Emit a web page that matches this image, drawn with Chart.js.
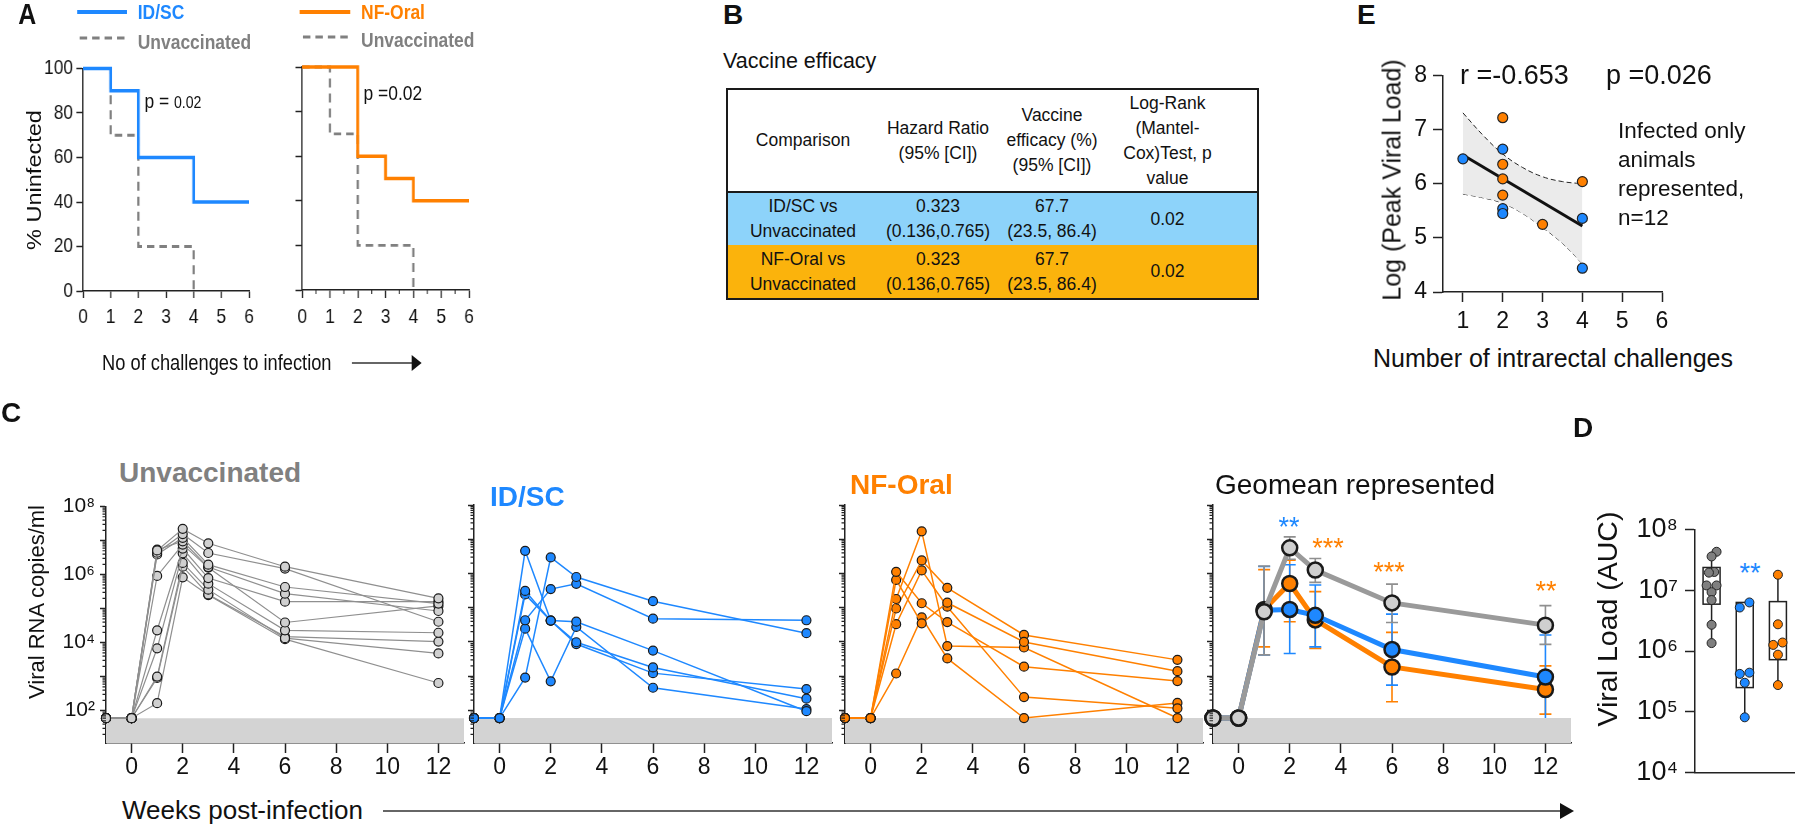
<!DOCTYPE html>
<html><head><meta charset="utf-8">
<script src="https://cdn.jsdelivr.net/npm/chart.js@4.4.1/dist/chart.umd.min.js"></script>
<style>
html,body{margin:0;padding:0;background:#fff;}
body{width:1800px;height:826px;position:relative;overflow:hidden;font-family:'Liberation Sans',Arial,Helvetica,sans-serif;color:#111;}
.t{position:absolute;white-space:nowrap;line-height:1;transform:translateY(-50%);}
.r{position:absolute;white-space:nowrap;line-height:1;transform:translate(-50%,-50%) rotate(-90deg);}
canvas{position:absolute;}
svg{position:absolute;left:0;top:0;overflow:visible;}
#panelA{position:absolute;left:0;top:0;width:720px;height:400px;transform:scaleX(0.83);transform-origin:0 0;}
table.ve{position:absolute;left:726px;top:88px;border-collapse:collapse;table-layout:fixed;border:2px solid #1a1a1a;font-size:17.5px;line-height:25px;}
table.ve td{text-align:center;vertical-align:middle;padding:0;}
</style></head>
<body>
<div id="panelA"></div>
<script>
// ================= DATA =================
// Panel A : Kaplan-Meier (% uninfected vs challenges)
const aIdscX = [0, 1, 2, 4, 6];
const aIdscY = [100, 90, 60, 40, 40];
const aUnvX  = [0, 1, 2, 4];
const aUnvY  = [100, 70, 20, 0];
const aNfX   = [0, 2, 3, 4, 6];
const aNfY   = [100, 60, 50, 40, 40];
const aXTicks = [0, 1, 2, 3, 4, 5, 6];
const aXHalf  = [0.5, 1.5, 2.5, 3.5, 4.5, 5.5];
const aYTicks = [0, 20, 40, 60, 80, 100];

// Panel B : table
const tblHead = [['Comparison'], ['Hazard Ratio', '(95% [CI])'], ['Vaccine', 'efficacy (%)', '(95% [CI])'], ['Log-Rank', '(Mantel-', 'Cox)Test, p', 'value']];
const tblRow1 = [['ID/SC vs', 'Unvaccinated'], ['0.323', '(0.136,0.765)'], ['67.7', '(23.5, 86.4)'], ['0.02']];
const tblRow2 = [['NF-Oral vs', 'Unvaccinated'], ['0.323', '(0.136,0.765)'], ['67.7', '(23.5, 86.4)'], ['0.02']];

// Panel E : log peak viral load vs challenges
const eBlueX   = [1, 2, 2, 2, 4, 4];
const eBlueY   = [6.46, 6.64, 5.54, 5.45, 5.36, 4.44];
const eOrangeX = [2, 2, 2, 2, 3, 4];
const eOrangeY = [7.22, 6.36, 6.09, 5.79, 5.25, 6.04];
const eFitX = [1, 4];
const eFitY = [6.53, 5.22];
const eBandX  = [1, 1.5, 2, 2.5, 3, 3.5, 4];
const eBandHi = [7.31, 6.90, 6.55, 6.30, 6.13, 6.04, 6.00];
const eBandLo = [5.81, 5.74, 5.64, 5.45, 5.19, 4.90, 4.52];
const eXTicks = [1, 2, 3, 4, 5, 6];
const eYTicks = [4, 5, 6, 7, 8];

// Panel C : viral RNA copies/ml over weeks
const weeks = [-1, 0, 1, 2, 3, 6, 12];
const lod = 60;
const unvacc = [
  [60, 60, 5.1e6, 2.2e7, 8.3e6, 1.7e6, 2.0e5],
  [60, 60, 4.4e6, 1.55e7, 4.3e6, 1.5e6, 4.1e4],
  [60, 60, 3.9e6, 1.2e7, 1.95e6, 4.3e5, 1.4e5],
  [60, 60, 5.4e6, 9.5e6, 1.66e6, 2.75e5, 8.5e4],
  [60, 60, 9.1e5, 7.6e6, 1.6e6, 3.9e4, 1.2e5],
  [60, 60, 2.3e4, 5.8e6, 7.9e5, 1.6e5, 1.6e5],
  [60, 60, 6.8e3, 4.2e6, 5.4e5, 2.3e4, 1.95e4],
  [60, 60, 1.0e3, 2.2e6, 3.6e5, 1.35e4, 4.8e3],
  [60, 60, 9.1e2, 1.7e6, 2.6e5, 1.5e4, 1.07e4],
  [60, 60, 1.66e2, 8.3e5, 2.5e5, 1.26e4, 6.5e2]
];
const idsc = [
  [60, 60, 9.1e2, 2.95e6, 7.9e5, 1.55e5, 1.8e4],
  [60, 60, 4.3e4, 3.5e5, 5.0e5, 4.8e4, 4.3e4],
  [60, 60, 4.6e6, 4.2e4, 9.8e3, 1.8e3, 2.2e2],
  [60, 60, 3.1e5, 4.2e4, 3.9e4, 5.6e3, 95],
  [60, 60, 2.45e5, 4.2e4, 8.7e3, 1.23e3, 4.2e2],
  [60, 60, 2.45e4, 7.1e2, 2.75e4, 4.6e2, 1.1e2]
];
const nfOral = [
  [60, 60, 1.12e6, 1.35e5, 3.8e4, 1.9e3, 7.2e2],
  [60, 60, 6.5e5, 3.5e4, 1.4e5, 1.0e4, 1.4e3],
  [60, 60, 1.8e5, 1.7e7, 7.6e3, 6.9e3, 60],
  [60, 60, 9.5e4, 2.4e6, 3.8e5, 1.6e4, 3.0e3],
  [60, 60, 3.3e4, 1.23e6, 1.07e5, 2.45e2, 1.15e2],
  [60, 60, 1.2e3, 5.2e4, 3.3e3, 60, 1.66e2]
];
const gmUnvacc = [60, 60, 7.6e4, 5.6e6, 1.26e6, 1.38e5, 3.1e4];
const gmIdsc   = [60, 60, 8.5e4, 8.9e4, 6.0e4, 6.0e3, 9.5e2];
const gmNf     = [60, 60, 8.9e4, 5.1e5, 4.4e4, 1.86e3, 4.1e2];
const gmErrWeeks = [1, 2, 3, 6, 12];
const gmUnvLo = [4.2e3, 2.6e6, 5.5e5, 3.7e4, 8.5e3];
const gmUnvHi = [1.66e6, 1.17e7, 2.75e6, 4.9e5, 1.15e5];
const gmIdLo  = [4.2e3, 4.6e3, 7.2e3, 5.5e2, 55];
const gmIdHi  = [1.6e6, 1.8e6, 4.6e5, 6.5e4, 1.6e4];
const gmNfLo  = [7.2e3, 3.9e4, 6.5e3, 1.8e2, 78];
const gmNfHi  = [1.3e6, 2.45e6, 2.95e5, 1.9e4, 2.0e3];
const cXTicks = [0, 2, 4, 6, 8, 10, 12];
const cYTicks = [1e2, 1e3, 1e4, 1e5, 1e6, 1e7, 1e8];

// Panel D : viral load AUC
const dUnvacc = [4.3e7, 3.6e7, 2.0e7, 1.95e7, 1.2e7, 1.2e7, 9.3e6, 6.9e6, 2.7e6, 1.35e6];
const dIdsc   = [6.3e6, 5.2e6, 4.4e5, 4.2e5, 3.0e5, 8.1e4];
const dNf     = [1.8e7, 2.75e6, 1.38e6, 1.26e6, 8.7e5, 2.75e5];
const dUnvBox = {min: 1.35e6, q1: 5.9e6, q3: 2.37e7, max: 4.3e7};
const dIdBox  = {min: 8.1e4, q1: 2.5e5, q3: 6.3e6, max: 6.3e6};
const dNfBox  = {min: 2.75e5, q1: 7.2e5, q3: 6.5e6, max: 1.8e7};
const dYTicks = [1e4, 1e5, 1e6, 1e7, 1e8];

// ================= STYLE =================
const BLUE = '#1e88ff', ORANGE = '#ff8000', GREY = '#808080';
const FONT = "'Liberation Sans', Arial, Helvetica, sans-serif";
// horizontal jitter for panel D dots (style only)
const dUnvJit = [0.15, 0, 0.08, -0.08, -0.15, 0.15, 0, 0, 0, 0];
const dIdJit  = [0.14, -0.15, 0.14, -0.15, 0, 0];
const dNfJit  = [0, 0, 0.14, -0.14, 0, 0];

Chart.defaults.font.family = FONT;
Chart.defaults.color = '#111';
Chart.defaults.animation = false;
Chart.defaults.responsive = false;
Chart.defaults.events = [];
Chart.defaults.plugins.legend.display = false;
Chart.defaults.plugins.tooltip.enabled = false;

const SUP = {'0':'⁰','1':'¹','2':'²','3':'³','4':'⁴','5':'⁵','6':'⁶','7':'⁷','8':'⁸','9':'⁹'};
function pow10Label(v, show) {
  const e = Math.round(Math.log10(v));
  return show.includes(e) ? '10' + String(e).split('').map(c => SUP[c]).join('') : '';
}
function minorLog(min, max) {
  const out = [];
  for (let n = 0; n < 9; n++) for (let k = 2; k <= 9; k++) {
    const v = k * Math.pow(10, n);
    if (v >= min && v <= max) out.push(v);
  }
  return out;
}
const pts = (xs, ys) => xs.map((x, i) => ({x, y: ys[i]}));

function scaleCfg(o) {
  return {
    type: o.type || 'linear', min: o.min, max: o.max,
    afterBuildTicks: ax => { ax.ticks = o.ticks.map(v => ({value: v})); },
    ticks: {display: o.showLabels !== false, font: {size: o.fontSize, family: FONT, lineHeight: 1}, color: '#111',
            padding: o.pad, callback: o.labels, autoSkip: false, maxRotation: 0, minRotation: 0},
    grid: {drawOnChartArea: false, drawTicks: true, tickLength: o.tickLen || 7, tickColor: '#222', tickWidth: 1.5},
    border: {display: true, color: '#222', width: 1.5}
  };
}

function minorTicksPlugin(list) {
  return {id: 'minorTicks', afterDraw(chart) {
    const ctx = chart.ctx;
    list.forEach(m => {
      const s = chart.scales[m.axis];
      ctx.save(); ctx.strokeStyle = '#222'; ctx.lineWidth = 1.2; ctx.beginPath();
      m.values.forEach(v => {
        const p = s.getPixelForValue(v);
        if (m.axis === 'x') { ctx.moveTo(p, s.top); ctx.lineTo(p, s.top + m.len); }
        else { ctx.moveTo(s.right, p); ctx.lineTo(s.right - m.len, p); }
      });
      ctx.stroke(); ctx.restore();
    });
  }};
}

function mk(parent, area, yW, xH, pad, cfg) {
  const c = document.createElement('canvas');
  const left = area.l - yW, top = area.t - pad.t;
  const w = area.r - area.l + yW + pad.r, h = area.b - area.t + xH + pad.t + pad.b;
  c.width = w; c.height = h;
  c.style.left = left + 'px'; c.style.top = top + 'px';
  c.style.width = w + 'px'; c.style.height = h + 'px';
  parent.appendChild(c);
  cfg.options.layout = {padding: {left: 0, top: pad.t, right: pad.r, bottom: pad.b}};
  cfg.options.devicePixelRatio = 1;
  cfg.options.scales.x.afterFit = s => { s.height = xH; };
  cfg.options.scales.y.afterFit = s => { s.width = yW; };
  return new Chart(c, cfg);
}

function txt(parent, s, x, cy, size, o) {
  o = o || {};
  const d = document.createElement('div');
  d.className = o.rot ? 'r' : 't';
  d.textContent = s;
  d.style.left = x + 'px'; d.style.top = cy + 'px'; d.style.fontSize = size + 'px';
  if (o.bold) d.style.fontWeight = 'bold';
  if (o.color) d.style.color = o.color;
  if (o.center) d.style.transform = 'translate(-50%,-50%)';
  parent.appendChild(d);
  return d;
}
function svgEl(parent, html) {
  const ns = 'http://www.w3.org/2000/svg';
  const s = document.createElementNS(ns, 'svg');
  s.setAttribute('width', '10'); s.setAttribute('height', '10');
  s.innerHTML = html;
  parent.appendChild(s);
}

const body = document.body;
const pA = document.getElementById('panelA');

// ================= PANEL A =================
const aPad = {t: 14, r: 16, b: 4};
function kmDs(xs, ys, color, dashed) {
  return {data: pts(xs, ys), showLine: true, stepped: 'before', borderColor: color,
          borderWidth: dashed ? 2.8 : 3.4, borderDash: dashed ? [9, 6] : [], pointRadius: 0, clip: false};
}
mk(pA, {l: 100, r: 300, t: 68, b: 291}, 60, 45, aPad, {
  type: 'scatter',
  data: {datasets: [kmDs(aIdscX, aIdscY, BLUE, false), kmDs(aUnvX, aUnvY, GREY, true)]},
  options: {scales: {
    x: scaleCfg({min: 0, max: 6, ticks: aXTicks, labels: v => String(v), fontSize: 21, pad: 9, tickLen: 7}),
    y: scaleCfg({min: 0, max: 100, ticks: aYTicks, labels: v => String(v), fontSize: 21, pad: 4, tickLen: 8})
  }}
});
mk(pA, {l: 364, r: 565, t: 67, b: 290}, 20, 45, aPad, {
  type: 'scatter',
  data: {datasets: [kmDs(aNfX, aNfY, ORANGE, false), kmDs(aUnvX, aUnvY, GREY, true)]},
  options: {scales: {
    x: scaleCfg({min: 0, max: 6, ticks: aXTicks, labels: v => String(v), fontSize: 21, pad: 9, tickLen: 8}),
    y: scaleCfg({min: 0, max: 100, ticks: aYTicks, labels: () => '', fontSize: 21, pad: 4, tickLen: 8, showLabels: false})
  }},
  plugins: [minorTicksPlugin([{axis: 'x', values: aXHalf, len: 4}])]
});
txt(pA, 'A', 22, 14, 30, {bold: true});
svgEl(pA, `<line x1="93" y1="12" x2="153" y2="12" stroke="${BLUE}" stroke-width="4"/>
<line x1="96" y1="38" x2="153" y2="38" stroke="${GREY}" stroke-width="3" stroke-dasharray="9 6"/>
<line x1="361" y1="12" x2="422" y2="12" stroke="${ORANGE}" stroke-width="4"/>
<line x1="365" y1="37" x2="422" y2="37" stroke="${GREY}" stroke-width="3" stroke-dasharray="9 6"/>
<line x1="424" y1="363" x2="498" y2="363" stroke="#333" stroke-width="1.5"/>
<polygon points="496,355 508,363 496,371" fill="#111"/>`);
txt(pA, 'ID/SC', 166, 11, 21, {bold: true, color: BLUE});
txt(pA, 'Unvaccinated', 166, 41, 21, {bold: true, color: GREY});
txt(pA, 'NF-Oral', 435, 11, 21, {bold: true, color: ORANGE});
txt(pA, 'Unvaccinated', 435, 39, 21, {bold: true, color: GREY});
const pL = txt(pA, '', 174, 100, 21);
pL.innerHTML = 'p = <span style="font-size:17px">0.02</span>';
txt(pA, 'p =0.02', 438, 92, 21);
txt(pA, '% Uninfected', 42, 180, 23.5, {rot: true});
txt(pA, 'No of challenges to infection', 123, 363, 22);

// ================= PANEL B =================
txt(body, 'B', 723, 15, 28, {bold: true});
txt(body, 'Vaccine efficacy', 723, 62, 21.5);
(function () {
  const t = document.createElement('table'); t.className = 've';
  const widths = [151, 120, 108, 152];
  const cg = document.createElement('colgroup');
  widths.forEach(w => { const c = document.createElement('col'); c.style.width = w + 'px'; cg.appendChild(c); });
  t.appendChild(cg);
  const rows = [[tblHead, 103, '#fff'], [tblRow1, 53, '#8dd3fa'], [tblRow2, 54, '#fbb30c']];
  rows.forEach(([cells, h, bg], ri) => {
    const tr = document.createElement('tr');
    tr.style.height = h + 'px'; tr.style.background = bg;
    if (ri === 0) tr.style.borderBottom = '2px solid #1a1a1a';
    cells.forEach((lines, ci) => {
      const td = document.createElement('td');
      td.innerHTML = lines.join('<br>');
      if (ci === 3) td.style.paddingRight = '28px';
      tr.appendChild(td);
    });
    t.appendChild(tr);
  });
  body.appendChild(t);
})();

// ================= PANEL E =================
function eDot(xs, ys, c) {
  return {data: pts(xs, ys), pointRadius: 5, pointBackgroundColor: c, pointBorderColor: '#222', pointBorderWidth: 1.2, showLine: false, clip: false};
}
mk(body, {l: 1443, r: 1662, t: 72, b: 292}, 70, 46, {t: 14, r: 16, b: 4}, {
  type: 'scatter',
  data: {datasets: [
    eDot(eBlueX, eBlueY, BLUE),
    eDot(eOrangeX, eOrangeY, ORANGE),
    {data: pts(eFitX, eFitY), showLine: true, borderColor: '#111', borderWidth: 3, pointRadius: 0},
    {data: pts(eBandX, eBandHi), showLine: true, borderColor: '#222', borderWidth: 1, borderDash: [5, 3], tension: 0.4, pointRadius: 0, fill: '+1', backgroundColor: '#ebebeb'},
    {data: pts(eBandX, eBandLo), showLine: true, borderColor: '#222', borderWidth: 1, borderDash: [5, 3], tension: 0.4, pointRadius: 0}
  ]},
  options: {scales: {
    x: scaleCfg({min: 0.5, max: 6, ticks: eXTicks, labels: v => String(v), fontSize: 23, pad: 8, tickLen: 10}),
    y: scaleCfg({min: 4, max: 8, ticks: eYTicks, labels: v => String(v), fontSize: 23, pad: 6, tickLen: 10})
  }}
});
txt(body, 'E', 1357, 15, 28, {bold: true});
txt(body, 'r =-0.653', 1460, 75, 27);
txt(body, 'p =0.026', 1606, 75, 27);
txt(body, 'Infected only', 1618, 131, 22.5);
txt(body, 'animals', 1618, 160, 22.5);
txt(body, 'represented,', 1618, 189, 22.5);
txt(body, 'n=12', 1618, 218, 22.5);
txt(body, 'Log (Peak Viral Load)', 1392, 180, 25, {rot: true});
txt(body, 'Number of intrarectal challenges', 1553, 358, 25, {center: true});

// ================= PANEL C =================
const cPad = {t: 14, r: 16, b: 4};
const cMinor = minorLog(11.2, 1e8);
function cScales(showY) {
  return {
    x: scaleCfg({min: -1, max: 13, ticks: cXTicks, labels: v => String(v), fontSize: 23, pad: 3, tickLen: 10}),
    y: scaleCfg({type: 'logarithmic', min: 11.2, max: 1e8, ticks: cYTicks, labels: v => pow10Label(v, [2, 4, 6, 8]),
                 fontSize: 21, pad: 5, tickLen: 6, showLabels: showY})
  };
}
function bandDs() {
  return {data: [{x: -1, y: lod}, {x: 13, y: lod}], showLine: true, fill: 'start', backgroundColor: '#d3d3d3', borderWidth: 0, pointRadius: 0};
}
function animalDs(vals, col, fillc, lw, r, bw) {
  return {data: pts(weeks, vals), showLine: true, borderColor: col, borderWidth: lw, pointRadius: r,
          pointBackgroundColor: fillc, pointBorderColor: '#1a1a1a', pointBorderWidth: bw, clip: false};
}
function errorBarPlugin(groups) {
  return {id: 'errBars', beforeDatasetsDraw(chart) {
    const ctx = chart.ctx, x = chart.scales.x, y = chart.scales.y;
    groups.forEach(g => {
      ctx.save(); ctx.strokeStyle = g.color; ctx.lineWidth = 1.6; ctx.beginPath();
      gmErrWeeks.forEach((w, i) => {
        const px = x.getPixelForValue(w), lo = y.getPixelForValue(g.lo[i]), hi = y.getPixelForValue(g.hi[i]);
        ctx.moveTo(px, lo); ctx.lineTo(px, hi);
        ctx.moveTo(px - 6, lo); ctx.lineTo(px + 6, lo);
        ctx.moveTo(px - 6, hi); ctx.lineTo(px + 6, hi);
      });
      ctx.stroke(); ctx.restore();
    });
  }};
}
const cAreas = [{l: 106, r: 464}, {l: 474, r: 832}, {l: 845, r: 1203}, {l: 1213, r: 1571}];
const cGroups = [[unvacc, '#8f8f8f', '#d0d0d0', 1.2], [idsc, BLUE, BLUE, 1.5], [nfOral, ORANGE, ORANGE, 1.5]];
cGroups.forEach(([series, lc, fc, lw], gi) => {
  const a = cAreas[gi];
  mk(body, {l: a.l, r: a.r, t: 505, b: 743}, gi === 0 ? 70 : 20, 42, cPad, {
    type: 'scatter',
    data: {datasets: series.map(s => animalDs(s, lc, fc, lw, 4.5, 1.2)).concat([bandDs()])},
    options: {scales: cScales(gi === 0)},
    plugins: [minorTicksPlugin([{axis: 'y', values: cMinor, len: 3.5}])]
  });
});
mk(body, {l: 1213, r: 1571, t: 505, b: 743}, 20, 42, cPad, {
  type: 'scatter',
  data: {datasets: [
    animalDs(gmUnvacc, '#9a9a9a', '#cfcfcf', 5, 7.5, 2.5),
    animalDs(gmIdsc, BLUE, BLUE, 5, 7.5, 2.5),
    animalDs(gmNf, ORANGE, ORANGE, 5, 7.5, 2.5),
    bandDs()
  ]},
  options: {scales: cScales(false)},
  plugins: [minorTicksPlugin([{axis: 'y', values: cMinor, len: 3.5}]),
            errorBarPlugin([{color: ORANGE, lo: gmNfLo, hi: gmNfHi}, {color: BLUE, lo: gmIdLo, hi: gmIdHi}, {color: '#8f8f8f', lo: gmUnvLo, hi: gmUnvHi}])]
});
txt(body, 'C', 1, 413, 28, {bold: true});
txt(body, 'Unvaccinated', 119, 473, 28, {bold: true, color: GREY});
txt(body, 'ID/SC', 490, 497, 28, {bold: true, color: BLUE});
txt(body, 'NF-Oral', 850, 485, 28, {bold: true, color: ORANGE});
txt(body, 'Geomean represented', 1215, 485, 28);
txt(body, 'Viral RNA copies/ml', 37, 602, 22, {rot: true});
txt(body, 'Weeks post-infection', 122, 810, 26);
svgEl(body, `<line x1="383" y1="811" x2="1562" y2="811" stroke="#333" stroke-width="1.5"/>
<polygon points="1560,803 1574,811 1560,819" fill="#111"/>`);
function star(s, cx, cy, color) { const d = txt(body, s, cx, cy - 7, 27, {color}); d.style.transform = 'translateX(-50%)'; }
star('**', 1289, 521, BLUE);
star('***', 1328, 542, ORANGE);
star('***', 1389, 566, ORANGE);
star('**', 1546, 585, ORANGE);
star('**', 1750, 567, BLUE);

// ================= PANEL D =================
function boxPlugin(items) {
  return {id: 'boxes', beforeDatasetsDraw(chart) {
    const ctx = chart.ctx, x = chart.scales.x, y = chart.scales.y;
    items.forEach(b => {
      const px = x.getPixelForValue(b.x), hw = 8.5;
      const pMin = y.getPixelForValue(b.box.min), pQ1 = y.getPixelForValue(b.box.q1);
      const pQ3 = y.getPixelForValue(b.box.q3), pMax = y.getPixelForValue(b.box.max);
      ctx.save(); ctx.strokeStyle = '#222'; ctx.lineWidth = 1.5;
      ctx.beginPath(); ctx.moveTo(px, pMin); ctx.lineTo(px, pQ1); ctx.moveTo(px, pQ3); ctx.lineTo(px, pMax); ctx.stroke();
      ctx.fillStyle = '#fff'; ctx.fillRect(px - hw, pQ3, 2 * hw, pQ1 - pQ3);
      ctx.strokeRect(px - hw, pQ3, 2 * hw, pQ1 - pQ3);
      ctx.restore();
    });
  }};
}
function dDots(vals, jit, x, c) {
  return {data: vals.map((v, i) => ({x: x + jit[i], y: v})), pointRadius: 4.5, pointBackgroundColor: c,
          pointBorderColor: '#222', pointBorderWidth: 1, showLine: false, clip: false};
}
mk(body, {l: 1695, r: 1800, t: 525, b: 787}, 100, 4, {t: 16, r: 0, b: 2}, {
  type: 'scatter',
  data: {datasets: [dDots(dUnvacc, dUnvJit, 1, '#7f7f7f'), dDots(dIdsc, dIdJit, 2, BLUE), dDots(dNf, dNfJit, 3, ORANGE)]},
  options: {scales: {
    x: {type: 'linear', min: 0.5, max: 3.5, ticks: {display: false}, grid: {display: false, drawTicks: false},
        border: {display: true, color: '#222', width: 1.5}},
    y: scaleCfg({type: 'logarithmic', min: 1e4, max: 1e8, ticks: dYTicks, labels: v => pow10Label(v, [4, 5, 6, 7, 8]), fontSize: 27, pad: 7, tickLen: 10})
  }},
  plugins: [boxPlugin([{x: 1, box: dUnvBox}, {x: 2, box: dIdBox}, {x: 3, box: dNfBox}])]
});
txt(body, 'D', 1573, 428, 28, {bold: true});
txt(body, 'Viral Load (AUC)', 1607, 619, 28.5, {rot: true});
</script>
</body></html>
